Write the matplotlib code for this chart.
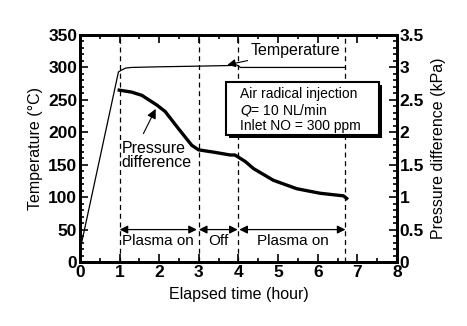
import matplotlib
matplotlib.use("Agg")
import matplotlib.pyplot as plt
from matplotlib.ticker import MultipleLocator
from matplotlib.patches import Rectangle

plt.rcParams['font.family'] = ['Liberation Sans', 'DejaVu Sans']

# temperature (degC) vs elapsed time (hour)
temp_t = [0.0, 0.97, 1.05, 1.15, 1.3, 2.0, 3.0, 3.8, 3.95, 4.05, 5.0, 6.0, 6.7]
temp_v = [18, 293, 296, 299, 300, 301, 302, 303, 304, 300, 300, 300, 300]

# pressure difference (kPa) vs elapsed time (hour)
pres_t = [0.99, 1.3, 1.56, 1.94, 2.15, 2.48, 2.82, 2.99, 3.41, 3.79, 3.91, 4.04,
          4.17, 4.38, 4.88, 5.47, 6.06, 6.65, 6.73]
pres_v = [2.65, 2.62, 2.57, 2.42, 2.32, 2.06, 1.80, 1.73, 1.69, 1.65, 1.65, 1.60,
          1.55, 1.44, 1.26, 1.13, 1.06, 1.02, 0.98]

phase_edges = [1, 3, 4, 6.7]
phases = [(1, 2.95, 'Plasma on'), (3, 3.98, 'Off'), (4.02, 6.7, 'Plasma on')]

fig = plt.figure(figsize=(4.67, 3.26), dpi=100)
ax = fig.add_axes([0.1713, 0.1963, 0.6788, 0.6963])
ax2 = ax.twinx()

ax.plot(temp_t, temp_v, color='black', lw=0.9)
ax2.plot(pres_t, pres_v, color='black', lw=2.4)

for x in phase_edges:
    ax.axvline(x, color='black', lw=0.9, ls=(0, (4, 3)))

for a, b, lab in phases:
    ax.annotate('', xy=(a, 50), xytext=(b, 50),
                arrowprops=dict(arrowstyle='<|-|>', color='black', lw=0.9,
                                mutation_scale=12, shrinkA=0, shrinkB=0))
    ax.text((a + b) / 2, 33, lab, ha='center', va='center', fontsize=11)

ax.annotate('Temperature', xy=(3.72, 304), xytext=(4.3, 326),
            fontsize=11.5, ha='left', va='center',
            arrowprops=dict(arrowstyle='-|>', color='black', lw=0.8,
                            mutation_scale=12, shrinkA=0, shrinkB=0))
ax.annotate('Pressure\ndifference', xy=(1.9, 237), xytext=(1.05, 164),
            fontsize=11.5, ha='left', va='center', linespacing=0.95)
ax.annotate('', xy=(1.91, 236), xytext=(1.6, 198),
            arrowprops=dict(arrowstyle='-|>', color='black', lw=0.8,
                            mutation_scale=14, shrinkA=0, shrinkB=0))

# condition box with drop shadow
ax.add_patch(Rectangle((3.76, 191), 3.87, 82, fc='black', ec='none', zorder=4))
ax.add_patch(Rectangle((3.69, 196), 3.86, 81, fc='white', ec='black', lw=1.5, zorder=5))
ax.text(4.04, 234, 'Air radical injection\n$Q$= 10 NL/min\nInlet NO = 300 ppm',
        fontsize=10, ha='left', va='center', linespacing=1.1, zorder=6)

ax.set_xlim(0, 8)
ax.set_ylim(0, 350)
ax2.set_ylim(0, 3.5)

ax.xaxis.set_major_locator(MultipleLocator(1))
ax.xaxis.set_minor_locator(MultipleLocator(0.5))
ax.yaxis.set_major_locator(MultipleLocator(50))
ax.yaxis.set_minor_locator(MultipleLocator(10))
ax2.set_yticks([0, 0.5, 1, 1.5, 2, 2.5, 3, 3.5])
ax2.set_yticklabels(['0', '0.5', '1', '1.5', '2', '2.5', '3', '3.5'])
ax2.yaxis.set_minor_locator(MultipleLocator(0.1))

ax.tick_params(which='both', direction='in', top=True, width=1.2)
ax.tick_params(which='major', length=6, labelsize=12.5, pad=2)
ax.tick_params(which='minor', length=3)
ax2.tick_params(which='both', direction='in', width=1.2)
ax2.tick_params(which='major', length=6, labelsize=12.5, pad=2)
ax2.tick_params(which='minor', length=3)
for lab in ax.get_xticklabels() + ax.get_yticklabels() + ax2.get_yticklabels():
    lab.set_fontweight('bold')

for s in ax.spines.values():
    s.set_linewidth(2)
for s in ax2.spines.values():
    s.set_linewidth(2)

ax.set_xlabel('Elapsed time (hour)', fontsize=11.5, labelpad=5)
ax.set_ylabel('Temperature (\u00b0C)', fontsize=11.5, labelpad=4)
ax2.set_ylabel('Pressure difference (kPa)', fontsize=11.5, labelpad=5)

fig.savefig('out.png', dpi=100)
